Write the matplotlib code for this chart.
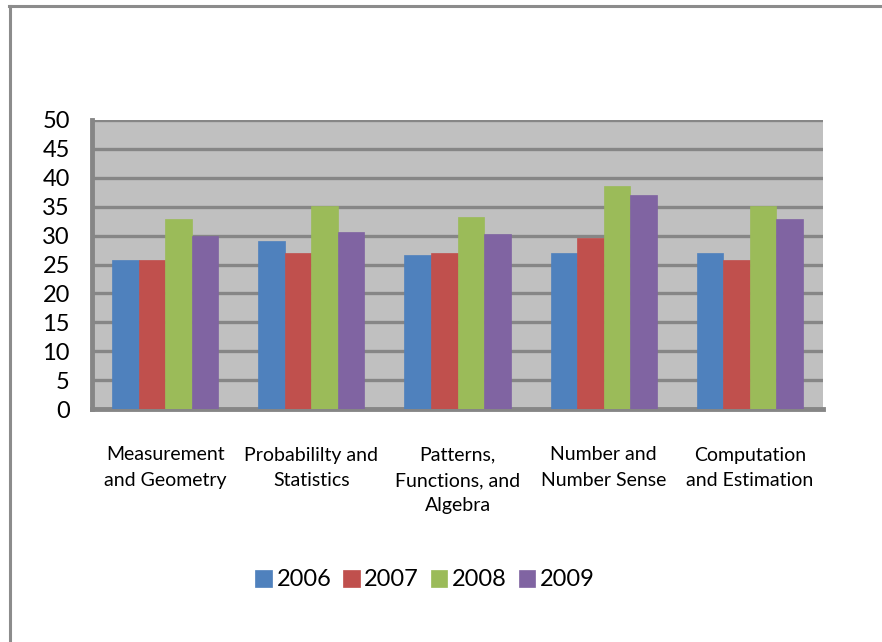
import numpy as np
import matplotlib.pyplot as plt
from matplotlib.lines import Line2D

plt.rcParams['font.family'] = ['Lato', 'DejaVu Sans']

categories = ["Measurement\nand Geometry", "Probabililty and\nStatistics",
              "Patterns,\nFunctions, and\nAlgebra", "Number and\nNumber Sense",
              "Computation\nand Estimation"]
years = ["2006", "2007", "2008", "2009"]
v2006 = [25.7, 29.1, 26.6, 27.0, 27.0]
v2007 = [25.7, 27.0, 27.0, 29.5, 25.7]
v2008 = [32.8, 35.2, 33.2, 38.6, 35.2]
v2009 = [29.9, 30.7, 30.3, 37.0, 32.8]
series = [v2006, v2007, v2008, v2009]
colors = ['#4F81BD', '#C0504D', '#9BBB59', '#8064A2']

fig = plt.figure(figsize=(8.82, 6.42), dpi=100)
ax = fig.add_axes([92/882, 233/642, 731/882, 289/642])
ax.set_facecolor('#C0C0C0')

x = np.arange(len(categories))
w = 1 / 5.5
for i, vals in enumerate(series):
    ax.bar(x + (i - 1.5) * w, vals, w, color=colors[i], label=years[i],
           zorder=3, edgecolor=colors[i], linewidth=0.5)

ax.set_xlim(-0.5, len(categories) - 0.5)
ax.set_ylim(0, 50)
ax.set_yticks(range(0, 51, 5))
ax.tick_params(axis='y', length=0, labelsize=17, pad=16)
ax.tick_params(axis='x', length=0, labelsize=14, pad=27)
ax.set_xticks(x)
ax.set_xticklabels(categories, linespacing=1.6, va='top')
ax.yaxis.grid(True, color='#868686', linewidth=2.4, zorder=1)
ax.set_axisbelow(True)
for s in ['left', 'bottom']:
    ax.spines[s].set_color('#868686')
    ax.spines[s].set_linewidth(3.5)
ax.spines['top'].set_visible(False)
ax.spines['right'].set_visible(False)

fig.legend(loc='center', bbox_to_anchor=(425/882, 1 - 580/642), ncol=4,
           frameon=False, fontsize=17, handlelength=0.7, handleheight=0.7,
           handletextpad=0.2, columnspacing=0.5)

# outer frame lines (top and left)
fig.add_artist(Line2D([9/882, 1], [1 - 5.5/642, 1 - 5.5/642], color='#8C8C8C', linewidth=2.2))
fig.add_artist(Line2D([9.5/882, 9.5/882], [0, 1 - 5.5/642], color='#8C8C8C', linewidth=2.2))

fig.savefig('out.png', dpi=100)
